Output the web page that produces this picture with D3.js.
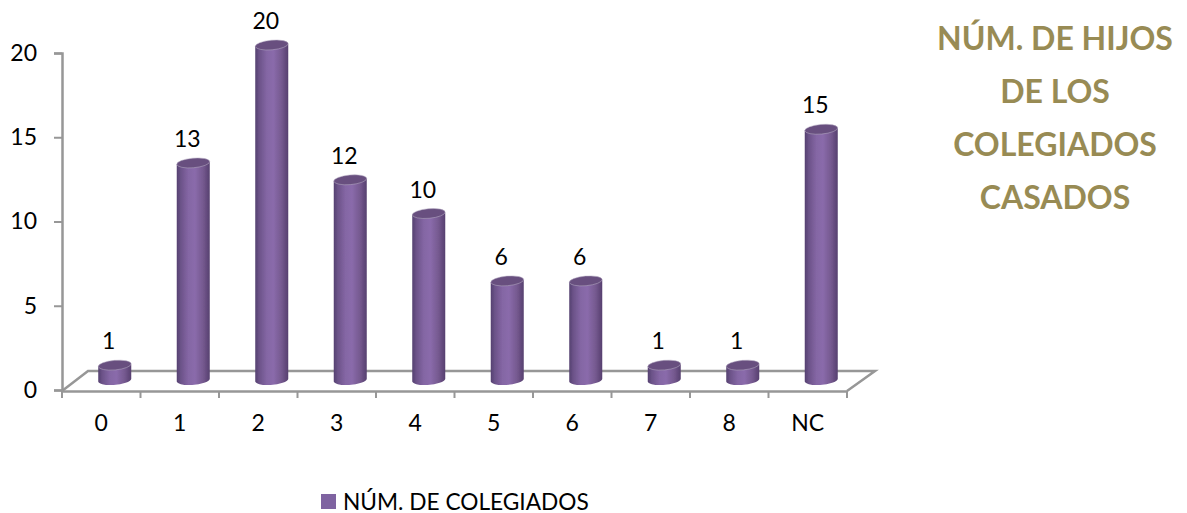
<!DOCTYPE html>
<html><head><meta charset="utf-8">
<script src="https://cdn.jsdelivr.net/npm/d3@7/dist/d3.min.js"></script>
<style>
html,body{margin:0;padding:0;background:#fff;overflow:hidden}
text{font-family:Lato,"Open Sans",sans-serif;fill:#000}
</style></head><body>
<svg id="c" width="1187" height="513"></svg>
<script>
const categories=["0","1","2","3","4","5","6","7","8","NC"];
const values=[1,13,20,12,10,6,6,1,1,15];
const yTicks=[0,5,10,15,20];
const seriesName="NÚM. DE COLEGIADOS";
const titleLines=["NÚM. DE HIJOS","DE LOS","COLEGIADOS","CASADOS"];

const svg=d3.select("#c");
const gridColor="#979797", fs=23;
const x=d3.scaleBand().domain(categories).range([62,847]);
const y=d3.scaleLinear().domain([0,20]).range([390,53]);
const depthX=26, depthY=-19;      // floor depth of the 3D projection
const barDX=13.5, barDY=-9;       // bars stand mid-way on the floor
const rx=16.5, ry=4.8;

// gradient for cylinders
const defs=svg.append("defs");
const g=defs.append("linearGradient").attr("id","cyl").attr("x1",0).attr("x2",1).attr("y1",0).attr("y2",0);
[[0,"#54406f"],[.12,"#6b5288"],[.35,"#8466a4"],[.55,"#8a6bab"],[.8,"#75598f"],[1,"#563f6f"]]
 .forEach(d=>g.append("stop").attr("offset",d[0]).attr("stop-color",d[1]));
const blur=defs.append("filter").attr("id","soft").attr("x","-10%").attr("y","-10%").attr("width","120%").attr("height","120%");
blur.append("feGaussianBlur").attr("stdDeviation",0.6);

// floor
const x0=x.range()[0], x1=x.range()[1], y0=y(0);
svg.append("path")
  .attr("d",`M${x0},${y0+1}L${x0+depthX},${y0+depthY}L${x1+depthX+2},${y0+depthY}L${x1},${y0+1}`)
  .attr("fill","none").attr("stroke",gridColor).attr("stroke-width",2.5);

// axes
const ax=svg.append("g").attr("transform",`translate(0,${y0+1})`)
  .call(d3.axisBottom(x).tickSize(0).tickPadding(24));
ax.select(".domain").attr("stroke",gridColor).attr("stroke-width",2.5);
ax.selectAll("text").attr("font-size",fs);
ax.selectAll(".bt").data(categories.concat("end")).enter().append("line").attr("class","bt")
  .attr("x1",(d,i)=>x0+i*x.step()).attr("x2",(d,i)=>x0+i*x.step())
  .attr("y1",0).attr("y2",7).attr("stroke",gridColor).attr("stroke-width",2);

const ay=svg.append("g").attr("transform",`translate(${x0},0)`)
  .call(d3.axisLeft(y).tickValues(yTicks).tickSize(8).tickPadding(17));
ay.select(".domain").attr("stroke",gridColor).attr("stroke-width",2.5);
ay.selectAll("line").attr("stroke",gridColor).attr("stroke-width",2);
ay.selectAll("text").attr("font-size",fs);

// cylinders
const cx=d=>x(d.c)+x.bandwidth()/2+barDX;
const topY=d=>y(d.v)+barDY+1;
const data=categories.map((c,i)=>({c,v:values[i]}));
const bars=svg.selectAll(".bar").data(data).enter().append("g").attr("class","bar").attr("filter","url(#soft)");
bars.append("path").attr("fill","url(#cyl)")
  .attr("d",d=>{const l=cx(d)-rx,r=cx(d)+rx,t=topY(d),b=y(0)+barDY-1;
    return `M${l},${t+1}L${l},${b+1}A${rx},${ry} -5 0 0 ${r},${b-1}L${r},${t-1}Z`;});
bars.append("ellipse").attr("fill","#67507f").attr("stroke","#b9aec6").attr("stroke-width",.5)
  .attr("cx",cx).attr("cy",topY).attr("rx",rx).attr("ry",ry)
  .attr("transform",d=>`rotate(-5,${cx(d)},${topY(d)})`);

// data labels
svg.selectAll(".lab").data(data).enter().append("text").attr("class","lab")
  .attr("x",d=>cx(d)-6).attr("y",d=>topY(d)-16)
  .attr("text-anchor","middle").attr("font-size",fs).text(d=>d.v);

// legend
svg.append("rect").attr("x",321).attr("y",494).attr("width",15).attr("height",15).attr("fill","#7f63a1");
svg.append("text").attr("x",343).attr("y",509.5).attr("font-size",fs-0.3).text(seriesName);

// title
svg.selectAll(".t").data(titleLines).enter().append("text").attr("class","t")
  .attr("x",1055).attr("y",(d,i)=>50+i*53).attr("text-anchor","middle")
  .attr("font-size",32).attr("font-weight",700).style("fill","#988b54").text(d=>d);
</script>
</body></html>
